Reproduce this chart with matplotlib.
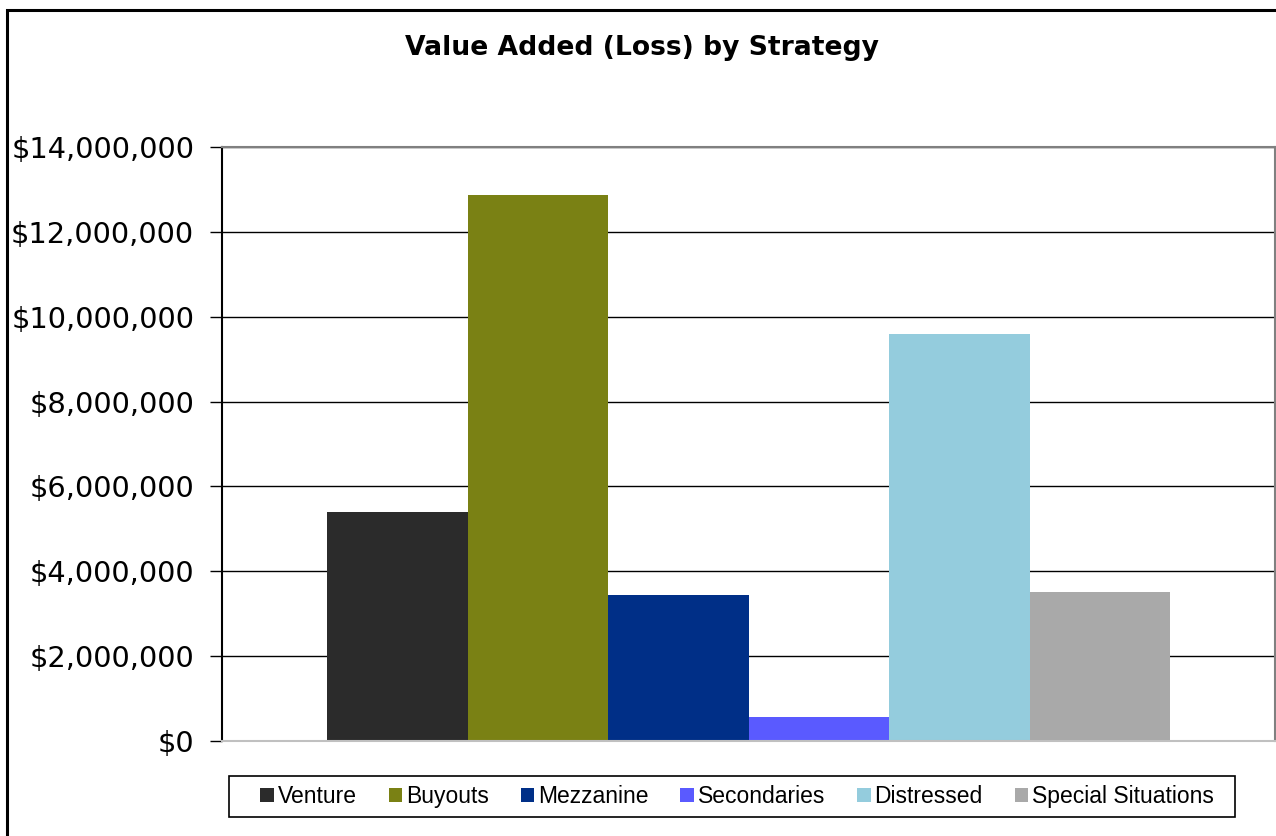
import matplotlib
matplotlib.use("Agg")
import matplotlib.pyplot as plt
from matplotlib.patches import Rectangle
from matplotlib.ticker import FuncFormatter, MultipleLocator

# 数据
strategies = ["Venture", "Buyouts", "Mezzanine", "Secondaries", "Distressed", "Special Situations"]
values = [5400000, 12870000, 3440000, 566000, 9590000, 3510000]
colors = ["#2b2b2b", "#7a8114", "#002f87", "#5a5aff", "#94ccdd", "#a9a9a9"]

W, H = 1276, 836
fig = plt.figure(figsize=(W / 100, H / 100), dpi=100)

# 外框
fig.patches.append(Rectangle((7 / W, -0.01), 1.02, 1 - 10 / H + 0.01, transform=fig.transFigure,
                             fill=False, edgecolor="black", linewidth=2.2))

ax = fig.add_axes([222 / W, (H - 741) / H, 1053 / W, 594 / H])

bar_w = 843 / 1053 / 6
start = -843 / 1053 / 2 + bar_w / 2
for i, (name, v, c) in enumerate(zip(strategies, values, colors)):
    ax.bar(start + i * bar_w, v, width=bar_w, color=c, label=name, zorder=3, linewidth=0)

ax.set_xlim(-0.5, 0.5)
ax.set_ylim(0, 14000000)
ax.yaxis.set_major_locator(MultipleLocator(2000000))
ax.yaxis.set_major_formatter(FuncFormatter(lambda v, p: f"${v:,.0f}"))
ax.set_xticks([])
ax.grid(axis="y", color="black", linewidth=1, zorder=0)

ax.spines["left"].set_color("black")
ax.spines["left"].set_linewidth(1.5)
ax.spines["top"].set_color("#808080")
ax.spines["right"].set_color("#808080")
ax.spines["top"].set_linewidth(1.5)
ax.spines["right"].set_linewidth(1.5)
ax.spines["bottom"].set_color("#c0c0c0")
ax.spines["bottom"].set_linewidth(1.5)
ax.spines["bottom"].set_zorder(4)

ax.tick_params(axis="y", length=9, width=1, color="black", labelsize=20.8, pad=11)
for lbl in ax.get_yticklabels():
    lbl.set_fontfamily("DejaVu Sans")

fig.text(642 / W, 1 - 48 / H, "Value Added (Loss) by Strategy", ha="center", va="center",
         fontsize=19.2, fontweight="bold", family="DejaVu Sans")

# 图例外框(左右留白比上下大)
fig.patches.append(Rectangle((229 / W, 1 - 817 / H), (1235 - 229) / W, 41 / H,
                             transform=fig.transFigure, fill=False,
                             edgecolor="black", linewidth=1.2))
leg = fig.legend(loc="center", bbox_to_anchor=(737 / W, 1 - 796.5 / H), ncol=6,
                 prop={"family": "Liberation Sans", "size": 16.5},
                 frameon=False,
                 handlelength=0.6, handleheight=0.6, handletextpad=0.15,
                 columnspacing=1.4, borderpad=0.45, borderaxespad=0)

fig.savefig("out.png", dpi=100)
